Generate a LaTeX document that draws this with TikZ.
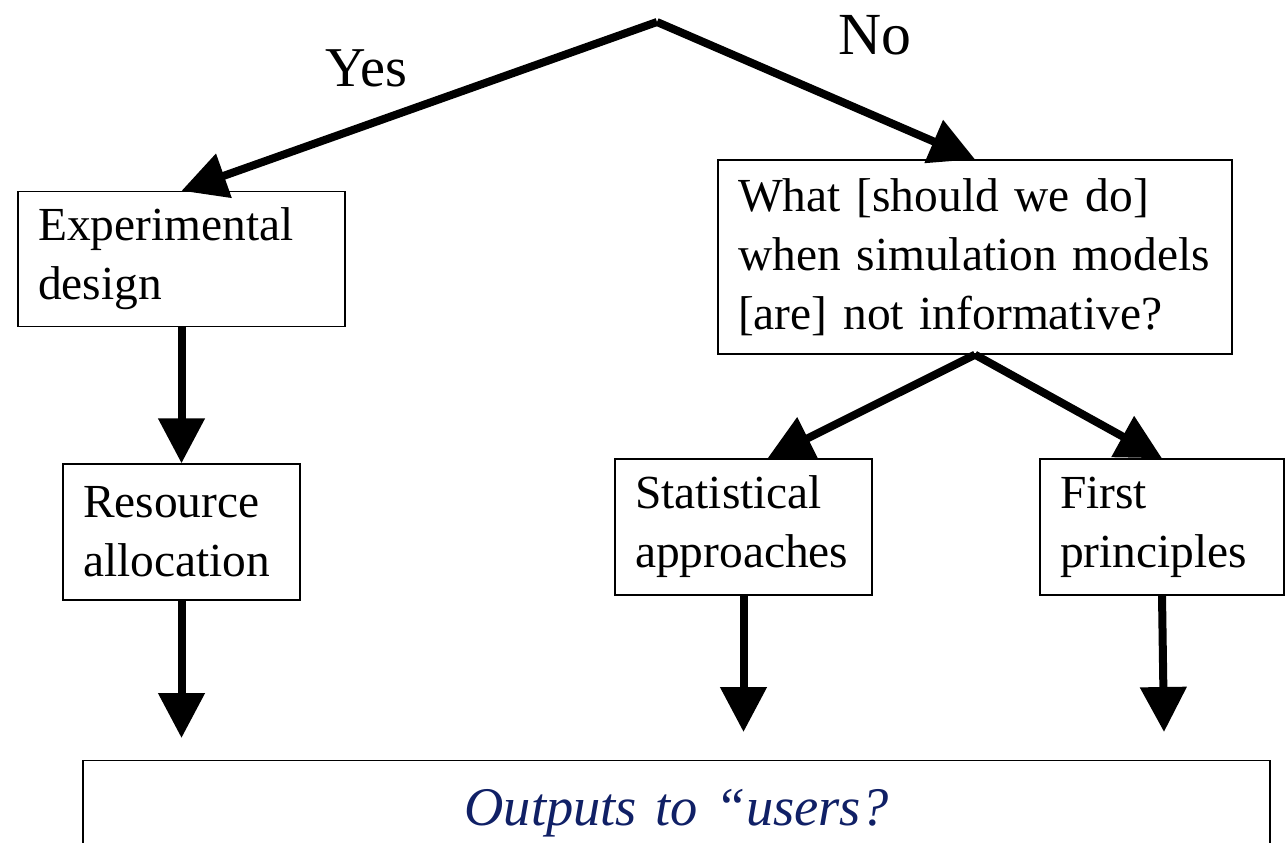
\documentclass[tikz,border=0pt]{standalone}
\usepackage{fontspec}
\setmainfont{Liberation Serif}
\usetikzlibrary{arrows.meta}
\definecolor{navy}{RGB}{16,32,102}

\begin{document}
\begin{tikzpicture}[x=0.02cm, y=-0.02cm,
  main/.style = {draw, line width=0.8pt, align=left, inner xsep=0.4cm, inner ysep=0pt, minimum height=2.72cm, font=\fontsize{27}{33.5}\selectfont},
  arr/.style = {line width=0.16cm, -{Triangle[length=0.9cm, width=0.9cm]}},
  ital/.style = {text=navy, font=\fontsize{31}{37}\selectfont\itshape}]
  \useasboundingbox (0,0) rectangle (1287,842);
  \clip (0,0) rectangle (1287,842);
  \node[ital, anchor=base] (q) at (656,-2) {is it valid?};
  \coordinate (top) at (657,22);
  \node[font=\fontsize{32}{38}\selectfont] (yes) at (366,68) {Yes};
  \node[font=\fontsize{34}{40}\selectfont] (no) at (875,35) {No};
  \node[main, text width=5.74cm, minimum height=2.7cm] (1) at (181.5,259) {Experimental\\design};
  \node[main, text width=3.94cm] (2) at (181.5,532) {Resource\\allocation};
  \node[main, text width=9.48cm, minimum height=3.88cm] (3) at (975,257) {What [should we do]\\when simulation models\\{[are]} not informative?};
  \node[main, text width=4.34cm] (4) at (743.5,527) {Statistical\\approaches};
  \node[main, text width=4.08cm] (5) at (1162,527) {First\\principles};
  \node[main, anchor=north, text width=22.94cm, align=center, minimum height=0pt, text height=0.8cm, text depth=1.5cm, inner ysep=0.5cm, ital] (6) at (676.5,760) {Outputs to “users?};
  \coordinate (e1) at (181.5,738);
  \coordinate (e2) at (743.5,732);
  \coordinate (e3) at (1164,732);
  \draw[arr] (top) -- (1.north);
  \draw[arr] (top) -- (3.north);
  \draw[arr] (1.south) -- (2.north);
  \draw[arr] (3.south) -- ([xshift=0.48cm]4.north);
  \draw[arr] (3.south) -- (5.north);
  \draw[arr] (2.south) -- (e1);
  \draw[arr] (4.south) -- (e2);
  \draw[arr] (5.south) -- (e3);
\end{tikzpicture}
\end{document}
